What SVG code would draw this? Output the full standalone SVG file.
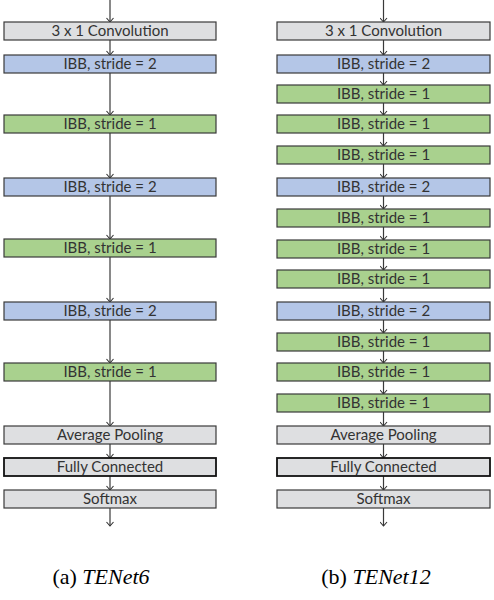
<svg xmlns="http://www.w3.org/2000/svg" width="494" height="600" viewBox="0 0 494 600">
<defs>
<marker id="ah" viewBox="0 0 6 8" refX="5.5" refY="4" markerWidth="6" markerHeight="8" markerUnits="userSpaceOnUse" orient="auto">
<path d="M1.5,0.5 L5.5,4 L1.5,7.5" fill="none" stroke="#333" stroke-width="1.1"/>
</marker>
<style>
.box{stroke:#3a3a3a;stroke-width:1.2}
.g{fill:#dedfe1}
.b{fill:#b4c6e7}
.n{fill:#a9d18e}
.fc{stroke:#111;stroke-width:1.8}
.t{font-family:Lato,"Liberation Sans",sans-serif;font-size:15px;fill:#333;text-anchor:middle}
.c{stroke:#3a3a3a;stroke-width:1.2;fill:none;marker-end:url(#ah)}
.cap{font-family:"Liberation Serif",serif;font-size:22px;fill:#000;text-anchor:middle}
</style>
</defs>
<rect width="494" height="600" fill="#fff"/>
<g id="connectors">
<line class="c" x1="110" y1="0" x2="110" y2="22"/>
<line class="c" x1="110" y1="40" x2="110" y2="55"/>
<line class="c" x1="110" y1="73" x2="110" y2="115"/>
<line class="c" x1="110" y1="133" x2="110" y2="178"/>
<line class="c" x1="110" y1="196" x2="110" y2="239"/>
<line class="c" x1="110" y1="257" x2="110" y2="302"/>
<line class="c" x1="110" y1="320" x2="110" y2="363"/>
<line class="c" x1="110" y1="381" x2="110" y2="426"/>
<line class="c" x1="110" y1="444" x2="110" y2="458"/>
<line class="c" x1="110" y1="476" x2="110" y2="490"/>
<line class="c" x1="110" y1="508" x2="110" y2="526"/>
<line class="c" x1="383.5" y1="0" x2="383.5" y2="22"/>
<line class="c" x1="383.5" y1="40" x2="383.5" y2="55"/>
<line class="c" x1="383.5" y1="73" x2="383.5" y2="85"/>
<line class="c" x1="383.5" y1="103" x2="383.5" y2="115"/>
<line class="c" x1="383.5" y1="133" x2="383.5" y2="146"/>
<line class="c" x1="383.5" y1="164" x2="383.5" y2="178"/>
<line class="c" x1="383.5" y1="196" x2="383.5" y2="209"/>
<line class="c" x1="383.5" y1="227" x2="383.5" y2="240"/>
<line class="c" x1="383.5" y1="258" x2="383.5" y2="270"/>
<line class="c" x1="383.5" y1="288" x2="383.5" y2="302"/>
<line class="c" x1="383.5" y1="320" x2="383.5" y2="333"/>
<line class="c" x1="383.5" y1="351" x2="383.5" y2="363"/>
<line class="c" x1="383.5" y1="381" x2="383.5" y2="394"/>
<line class="c" x1="383.5" y1="412" x2="383.5" y2="426"/>
<line class="c" x1="383.5" y1="444" x2="383.5" y2="458"/>
<line class="c" x1="383.5" y1="476" x2="383.5" y2="490"/>
<line class="c" x1="383.5" y1="508" x2="383.5" y2="526"/>
</g>
<g id="a-conv"><rect class="box g" x="4" y="22" width="212" height="18"/><text class="t" x="110" y="36">3 x 1 Convolution</text></g>
<g id="a-ibb1"><rect class="box b" x="4" y="55" width="212" height="18"/><text class="t" x="110" y="69">IBB, stride = 2</text></g>
<g id="a-ibb2"><rect class="box n" x="4" y="115" width="212" height="18"/><text class="t" x="110" y="129">IBB, stride = 1</text></g>
<g id="a-ibb3"><rect class="box b" x="4" y="178" width="212" height="18"/><text class="t" x="110" y="192">IBB, stride = 2</text></g>
<g id="a-ibb4"><rect class="box n" x="4" y="239" width="212" height="18"/><text class="t" x="110" y="253">IBB, stride = 1</text></g>
<g id="a-ibb5"><rect class="box b" x="4" y="302" width="212" height="18"/><text class="t" x="110" y="316">IBB, stride = 2</text></g>
<g id="a-ibb6"><rect class="box n" x="4" y="363" width="212" height="18"/><text class="t" x="110" y="377">IBB, stride = 1</text></g>
<g id="a-pool"><rect class="box g" x="4" y="426" width="212" height="18"/><text class="t" x="110" y="440">Average Pooling</text></g>
<g id="a-fc"><rect class="box g fc" x="4" y="458" width="212" height="18"/><text class="t" x="110" y="472">Fully Connected</text></g>
<g id="a-soft"><rect class="box g" x="4" y="490" width="212" height="18"/><text class="t" x="110" y="504">Softmax</text></g>
<g id="b-conv"><rect class="box g" x="277" y="22" width="213" height="18"/><text class="t" x="383.5" y="36">3 x 1 Convolution</text></g>
<g id="b-ibb1"><rect class="box b" x="277" y="55" width="213" height="18"/><text class="t" x="383.5" y="69">IBB, stride = 2</text></g>
<g id="b-ibb2"><rect class="box n" x="277" y="85" width="213" height="18"/><text class="t" x="383.5" y="99">IBB, stride = 1</text></g>
<g id="b-ibb3"><rect class="box n" x="277" y="115" width="213" height="18"/><text class="t" x="383.5" y="129">IBB, stride = 1</text></g>
<g id="b-ibb4"><rect class="box n" x="277" y="146" width="213" height="18"/><text class="t" x="383.5" y="160">IBB, stride = 1</text></g>
<g id="b-ibb5"><rect class="box b" x="277" y="178" width="213" height="18"/><text class="t" x="383.5" y="192">IBB, stride = 2</text></g>
<g id="b-ibb6"><rect class="box n" x="277" y="209" width="213" height="18"/><text class="t" x="383.5" y="223">IBB, stride = 1</text></g>
<g id="b-ibb7"><rect class="box n" x="277" y="240" width="213" height="18"/><text class="t" x="383.5" y="254">IBB, stride = 1</text></g>
<g id="b-ibb8"><rect class="box n" x="277" y="270" width="213" height="18"/><text class="t" x="383.5" y="284">IBB, stride = 1</text></g>
<g id="b-ibb9"><rect class="box b" x="277" y="302" width="213" height="18"/><text class="t" x="383.5" y="316">IBB, stride = 2</text></g>
<g id="b-ibb10"><rect class="box n" x="277" y="333" width="213" height="18"/><text class="t" x="383.5" y="347">IBB, stride = 1</text></g>
<g id="b-ibb11"><rect class="box n" x="277" y="363" width="213" height="18"/><text class="t" x="383.5" y="377">IBB, stride = 1</text></g>
<g id="b-ibb12"><rect class="box n" x="277" y="394" width="213" height="18"/><text class="t" x="383.5" y="408">IBB, stride = 1</text></g>
<g id="b-pool"><rect class="box g" x="277" y="426" width="213" height="18"/><text class="t" x="383.5" y="440">Average Pooling</text></g>
<g id="b-fc"><rect class="box g fc" x="277" y="458" width="213" height="18"/><text class="t" x="383.5" y="472">Fully Connected</text></g>
<g id="b-soft"><rect class="box g" x="277" y="490" width="213" height="18"/><text class="t" x="383.5" y="504">Softmax</text></g>
<text class="cap" x="101" y="584">(a) <tspan font-style="italic">TENet6</tspan></text>
<text class="cap" x="376" y="584">(b) <tspan font-style="italic">TENet12</tspan></text>
</svg>
